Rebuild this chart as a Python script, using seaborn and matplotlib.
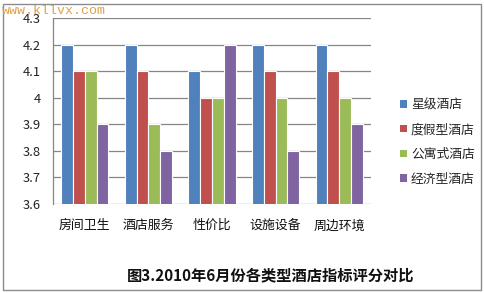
import matplotlib
matplotlib.use("Agg")
import matplotlib.pyplot as plt
import seaborn as sns
import pandas as pd
from matplotlib.patches import Rectangle, Patch

categories = ["房间卫生", "酒店服务", "性价比", "设施设备", "周边环境"]
series_names = ["星级酒店", "度假型酒店", "公寓式酒店", "经济型酒店"]
star = [4.2, 4.2, 4.1, 4.2, 4.2]
resort = [4.1, 4.1, 4.0, 4.1, 4.1]
apartment = [4.1, 3.9, 4.0, 4.0, 4.0]
budget = [3.9, 3.8, 4.2, 3.8, 3.9]
yticks = [3.6, 3.7, 3.8, 3.9, 4.0, 4.1, 4.2, 4.3]
ytick_labels = ["3.6", "3.7", "3.8", "3.9", "4", "4.1", "4.2", "4.3"]
colors = ["#4F81BD", "#C0504D", "#9BBB59", "#8064A2"]
title = "图3.2010年6月份各类型酒店指标评分对比"
watermark = "www.kllvx.com"

rows = []
for name, vals in zip(series_names, [star, resort, apartment, budget]):
    for c, v in zip(categories, vals):
        rows.append({"类别": c, "系列": name, "评分": v})
df = pd.DataFrame(rows)

sns.set_theme(style="white")
plt.rcParams["font.family"] = ["Noto Sans CJK SC", "DejaVu Sans"]

fig = plt.figure(figsize=(4.85, 2.93), dpi=100)
fig.patch.set_facecolor("white")
ax = fig.add_axes([53/485, 1-204/293, (371-53)/485, (204-18)/293])

sns.barplot(data=df, x="类别", y="评分", hue="系列", order=categories,
            hue_order=series_names, palette=colors, width=0.74, saturation=1,
            edgecolor="white", linewidth=0.8, ax=ax, legend=False)

ax.set_ylim(3.6, 4.3)
ax.set_yticks(yticks)
ax.set_yticklabels(ytick_labels, fontsize=9.3, color="#222222")
ax.set_xlim(-0.5, len(categories) - 0.5)
ax.tick_params(axis="y", length=0, pad=9)
ax.tick_params(axis="x", length=0, pad=11, labelsize=9.3, labelcolor="#111111")
ax.set_xlabel("")
ax.set_ylabel("")
ax.yaxis.grid(True, color="#868686", linewidth=0.9)
ax.set_axisbelow(True)
for s in ["top", "right", "bottom"]:
    ax.spines[s].set_visible(False)
ax.spines["left"].set_color("#868686")
ax.spines["left"].set_linewidth(0.9)

handles = [Patch(facecolor=c, edgecolor="none") for c in colors]
fig.legend(handles, series_names, loc="center left",
           bbox_to_anchor=(400/485, 1-142/293), frameon=False, borderpad=0,
           borderaxespad=0, fontsize=9.2, handlelength=0.55, handleheight=0.55,
           handletextpad=0.3, labelspacing=0.92)

fig.text(271/485, 1-275/293, title, ha="center", va="center",
         fontsize=11, fontweight="bold", color="#111111")
fig.text(2/485, 1-11/293, watermark, ha="left", va="center",
         fontsize=9.5, family="Liberation Mono", color="#E0A040")

fig.patches.append(Rectangle((3/485, 3/293), 478/485, 286/293,
                             transform=fig.transFigure, fill=False,
                             edgecolor="#8C8C8C", linewidth=1.0))

fig.savefig("out.png", dpi=100, facecolor="white")
